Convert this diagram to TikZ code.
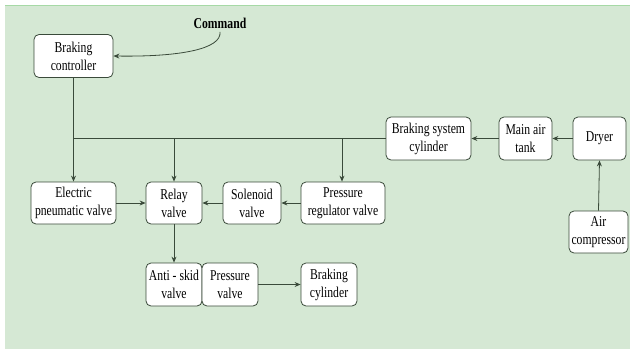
\documentclass[tikz,border=0pt]{standalone}
\usepackage{fontspec}
\setmainfont{Liberation Serif}[FakeStretch=0.78]
\usepackage{tikz}
\usetikzlibrary{arrows.meta,calc,positioning}
\definecolor{bggreen}{HTML}{D5E8D4}
\definecolor{edgegray}{HTML}{3A4A3A}

\begin{document}
\begin{tikzpicture}[
        x=1pt, y=1pt,
        block/.style={draw=edgegray, thick, fill=white, rounded corners=5pt,
            align=center, inner sep=1pt, minimum height=43pt,
            font=\fontsize{15}{18}\selectfont},
        flow/.style={thick, draw=edgegray, -{Stealth[length=6pt,width=5pt]}},
        plain line/.style={thick, draw=edgegray},
        every node/.style={color=black}
    ]
    \useasboundingbox (0,0) rectangle (630,349);
    % background
    \fill[bggreen] (5,0) rectangle (630,344);
    \draw[green!40!gray!50] (5,344) -- (630,344);
    % blocks
    \node[block, minimum width=79pt] (ctrl) at (73.5,293) {Braking\\controller};
    \node[block, minimum width=85pt] (bsc) at (428.5,210.5) {Braking system\\cylinder};
    \node[block, minimum width=53pt] (tank) at (525.5,210.5) {Main air\\tank};
    \node[block, minimum width=53pt] (dryer) at (599.5,210.5) {Dryer};
    \node[block, minimum width=59pt, minimum height=42pt] (comp) at (598.5,117) {Air\\compressor};
    \node[block, minimum width=85pt, minimum height=42pt] (epv) at (73.5,146) {Electric\\pneumatic valve};
    \node[block, minimum width=56pt, minimum height=42pt] (relay) at (174,146) {Relay\\valve};
    \node[block, minimum width=58pt, minimum height=42pt] (sol) at (252,146) {Solenoid\\valve};
    \node[block, minimum width=84pt, minimum height=42pt] (prv) at (343,146) {Pressure\\regulator valve};
    \node[block, minimum width=56pt] (anti) at (174,64.5) {Anti - skid\\valve};
    \node[block, minimum width=56pt] (pv) at (230,64.5) {Pressure\\valve};
    \node[block, minimum width=56pt] (bcyl) at (329,64.5) {Braking\\cylinder};
    \node[font=\fontsize{15}{18}\selectfont\bfseries] (cmd) at (220,326) {Command};
    % command
    \draw[flow] (cmd.south) .. controls (222,300) and (180,292) .. (ctrl.east);
    % air supply
    \draw[flow] (comp.north) -- (dryer.south);
    \draw[flow] (dryer.west) -- (tank.east);
    \draw[flow] (tank.west) -- (bsc.east);
    % distribution line
    \coordinate (bus) at (ctrl.south |- bsc.west);
    \draw[plain line] (bsc.west) -- (bus);
    \draw[flow] (ctrl.south) -- (epv.north);
    \draw[flow] (relay.north |- bsc.west) -- (relay.north);
    \draw[flow] ($(prv.north |- bsc.west)+(-1,0)$) -- ($(prv.north)+(-1,0)$);
    % valves
    \draw[flow] (epv.east) -- (relay.west);
    \draw[flow] (sol.west) -- (relay.east);
    \draw[flow] (prv.west) -- (sol.east);
    \draw[flow] (relay.south) -- (anti.north);
    \draw[flow] (pv.east) -- (bcyl.west);
\end{tikzpicture}
\end{document}
